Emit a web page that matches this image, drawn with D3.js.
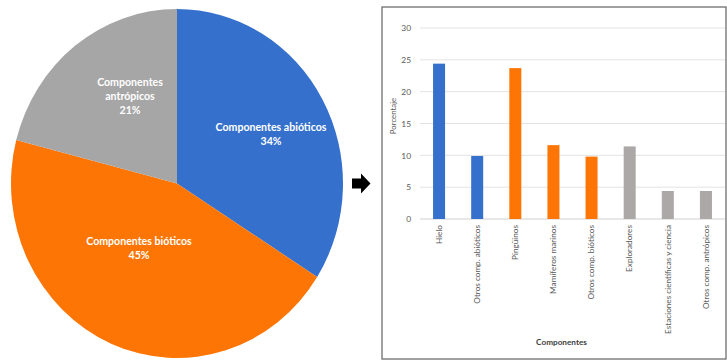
<!DOCTYPE html>
<html><head><meta charset="utf-8">
<script src="https://cdn.jsdelivr.net/npm/d3@7"></script>
<style>body{margin:0;background:#fff}svg{display:block}</style>
</head><body>
<svg id="c" width="727" height="361"></svg>
<script>
// Pie data
const pieCats = ["Componentes abióticos", "Componentes bióticos", "Componentes antrópicos"];
const pieVals = [34, 45, 21];
const pieColors = ["#3571cc", "#fd7605", "#a6a6a6"];
const pieLabelLines = [["Componentes abióticos"], ["Componentes bióticos"], ["Componentes", "antrópicos"]];

// Bar data
const barCats = ["Hielo", "Otros comp. abióticos", "Pingüinos", "Mamíferos marinos", "Otros comp. bióticos", "Exploradores", "Estaciones científicas y ciencia", "Otros comp. antrópicos"];
const barVals = [24.4, 9.9, 23.7, 11.6, 9.8, 11.4, 4.4, 4.4];
const barGroup = [0, 0, 1, 1, 1, 2, 2, 2];
const barColors = ["#3571cc", "#fd7605", "#aca8a8"];
const yTicks = [0, 5, 10, 15, 20, 25, 30];

const svg = d3.select("#c");
const font = "Lato, 'Open Sans', sans-serif";

// ---- Pie ----
const cx = 177, cy = 183.5, rx = 166, ry = 174.5;
const pg = svg.append("g").attr("transform", `translate(${cx},${cy}) scale(1,${ry/rx})`);
const pie = d3.pie().sort(null).value(d => d)(pieVals);
const arc = d3.arc().innerRadius(0).outerRadius(rx);
pg.selectAll("path").data(pie).join("path")
  .attr("d", arc).attr("fill", (d,i) => pieColors[i]);

const labelPos = [[271, 127], [139, 241], [130, 82]];
pie.forEach((d, i) => {
  const lines = pieLabelLines[i].concat([pieVals[i] + "%"]);
  const t = svg.append("text").attr("text-anchor", "middle")
    .attr("font-family", font).attr("font-weight", "bold").attr("font-size", 10.6)
    .attr("fill", "#fff");
  lines.forEach((l, j) => {
    t.append("tspan").attr("x", labelPos[i][0]).attr("y", labelPos[i][1] + j*14.2 + 4).text(l);
  });
});

// ---- Arrow ----
svg.append("path")
  .attr("d", "M352,178.5 L361,178.5 L361,173.5 L370.5,183.5 L361,193.5 L361,188.5 L352,188.5 Z")
  .attr("fill", "#000");

// ---- Bar chart box ----
svg.append("rect").attr("x", 382).attr("y", 7).attr("width", 344).attr("height", 352)
  .attr("fill", "#fff").attr("stroke", "#6e6e6e").attr("stroke-width", 1.3);

const x = d3.scaleBand().domain(barCats).range([420, 725]).paddingInner(0.685).paddingOuter(0.3425);
const y = d3.scaleLinear().domain([0, 30]).range([219, 28]);

const bg = svg.append("g");
bg.selectAll("line.grid").data(yTicks).join("line").attr("class", "grid")
  .attr("x1", 420).attr("x2", 725)
  .attr("y1", d => y(d)).attr("y2", d => y(d))
  .attr("stroke", d => d === 0 ? "#d0d0d0" : "#e3e3e3").attr("stroke-width", 1);

const yAxis = d3.axisLeft(y).tickValues(yTicks).tickSize(0).tickPadding(9);
const ya = bg.append("g").attr("transform", "translate(420,0)").call(yAxis);
ya.select(".domain").remove();
ya.selectAll("text").attr("font-family", font).attr("font-size", 8.4).attr("fill", "#595959");

bg.selectAll("rect.bar").data(barVals).join("rect").attr("class", "bar")
  .attr("x", (d,i) => x(barCats[i])).attr("width", x.bandwidth())
  .attr("y", d => y(d)).attr("height", d => y(0) - y(d))
  .attr("fill", (d,i) => barColors[barGroup[i]]);

const xAxis = d3.axisBottom(x).tickSize(0).tickPadding(0);
const xa = bg.append("g").attr("transform", `translate(0,${y(0)})`).call(xAxis);
xa.select(".domain").remove();
xa.selectAll("text")
  .attr("font-family", font).attr("font-size", 8.2).attr("fill", "#595959")
  .attr("text-anchor", "end").attr("dy", null)
  .attr("transform", "translate(2.8,6) rotate(-90)").attr("y", 0).attr("x", 0);

svg.append("text").attr("x", 393).attr("y", 116)
  .attr("transform", "rotate(-90,393,116)").attr("text-anchor", "middle")
  .attr("dy", "0.35em").attr("font-family", font).attr("font-size", 7.8).attr("fill", "#595959")
  .text("Porcentaje");

svg.append("text").attr("x", 561.5).attr("y", 344.5).attr("text-anchor", "middle")
  .attr("font-family", font).attr("font-weight", "bold").attr("font-size", 8.2).attr("fill", "#404040")
  .text("Componentes");
</script>
</body></html>
